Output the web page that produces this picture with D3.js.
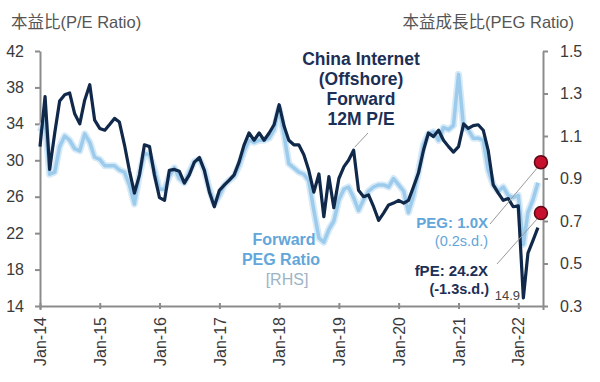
<!DOCTYPE html>
<html lang="zh-Hant">
<head>
<meta charset="UTF-8">
<title>China Internet Forward P/E and PEG</title>
<script src="https://cdnjs.cloudflare.com/ajax/libs/d3/7.8.5/d3.min.js"></script>
<style>
  body { margin: 0; background: #fff; }
  svg { display: block; font-family: "Liberation Sans", Arial, "Noto Sans CJK TC", sans-serif; }
  .axis path, .axis line { stroke: #8c8c8c; stroke-width: 2; }
  .axis text { fill: #3a3a3a; font-size: 16px; }
</style>
</head>
<body>
<div id="chart"></div>
<script>
// monthly series, Jan-14 .. May-22
const peValues = [
  31.5, 37.0, 29.0, 33.0, 36.5, 37.2, 37.4, 35.1, 34.0, 36.6,
  38.3, 34.4, 33.5, 33.3, 33.9, 34.6, 34.2, 31.7, 28.9, 26.4,
  28.4, 31.7, 31.5, 28.4, 25.9, 25.6, 28.9, 29.0, 28.8, 27.5,
  28.4, 29.8, 30.3, 28.9, 26.5, 24.9, 26.7, 27.3, 27.8, 28.4,
  29.8, 31.7, 33.0, 32.2, 33.0, 32.2, 33.0, 33.9, 36.1, 33.7,
  32.2, 31.7, 31.7, 30.6, 28.9, 26.5, 28.5, 23.8, 28.2, 24.8,
  28.0, 29.3, 30.0, 31.1, 26.7, 26.0, 26.2, 24.9, 23.4, 24.2,
  25.1, 25.3, 25.6, 25.3, 25.6, 27.1, 28.6, 31.1, 33.0, 32.6,
  33.3, 32.2, 31.5, 30.9, 31.5, 34.0, 33.5, 33.8, 33.9, 33.3,
  31.1, 27.3, 26.4, 25.6, 25.8, 24.9, 25.0, 14.9, 19.8, 21.2,
  22.6
];
const pegValues = [
  1.12, 1.17, 0.92, 0.93, 1.05, 1.10, 1.08, 1.04, 1.03, 1.11,
  1.07, 1.00, 0.99, 0.96, 0.96, 0.96, 0.94, 0.93, 0.87, 0.78,
  0.92, 1.02, 1.01, 0.94, 0.85, 0.85, 0.91, 0.95, 0.90, 0.88,
  0.93, 0.98, 0.99, 0.94, 0.85, 0.78, 0.82, 0.87, 0.89, 0.91,
  0.96, 1.03, 1.08, 1.07, 1.08, 1.08, 1.09, 1.13, 1.23, 1.10,
  0.97, 0.95, 0.93, 0.92, 0.89, 0.75, 0.62, 0.60, 0.66, 0.70,
  0.80, 0.85, 0.86, 0.81, 0.75, 0.80, 0.84, 0.86, 0.87, 0.87,
  0.86, 0.90, 0.87, 0.84, 0.74, 0.82, 0.93, 1.06, 1.11, 1.12,
  1.08, 1.14, 1.13, 1.15, 1.39, 1.14, 1.13, 1.09, 1.09, 1.08,
  0.94, 0.87, 0.84, 0.86, 0.82, 0.81, 0.82, 0.59, 0.74, 0.80,
  0.88
];
const tickYears = [2014, 2015, 2016, 2017, 2018, 2019, 2020, 2021, 2022];
const leftTicks = [14, 18, 22, 26, 30, 34, 38, 42];
const rightTicks = [0.3, 0.5, 0.7, 0.9, 1.1, 1.3, 1.5];
const latestPE = 24.2;
const latestPEG = 1.0;
const minPE = 14.9;

const months = d3.timeMonth.range(new Date(2014, 0, 1), new Date(2022, 4, 2));

const W = 600, H = 382;
const svg = d3.select("#chart").append("svg")
  .attr("width", W).attr("height", H);

const x = d3.scaleTime()
  .domain([new Date(2014, 0, 1), new Date(2022, 5, 1)])
  .range([40, 543]);
const yL = d3.scaleLinear().domain([14, 42]).range([306, 51]);
const yR = d3.scaleLinear().domain([0.3, 1.5]).range([306, 51]);

// axes
const gx = svg.append("g").attr("class", "axis")
  .attr("transform", "translate(0,306)")
  .call(d3.axisBottom(x)
    .tickValues(tickYears.map(yr => new Date(yr, 0, 1)))
    .tickFormat(d3.timeFormat("Jan-%y"))
    .tickSizeOuter(0).tickSize(4));
gx.selectAll(".tick line").attr("y1", -3).attr("y2", 3);
gx.selectAll(".tick text")
  .attr("transform", "rotate(-90)")
  .attr("text-anchor", "end")
  .attr("x", -11).attr("y", 0).attr("dy", "0.35em")
  .style("font-size", "16px");

svg.append("g").attr("class", "axis")
  .attr("transform", "translate(40,0)")
  .call(d3.axisLeft(yL).tickValues(leftTicks).tickSize(5).tickSizeOuter(0).tickPadding(11));

svg.append("g").attr("class", "axis")
  .attr("transform", "translate(543,0)")
  .call(d3.axisRight(yR).tickValues(rightTicks).tickFormat(d3.format(".1f"))
    .tickSize(5).tickSizeOuter(0).tickPadding(12));

// axis titles
svg.append("text").attr("x", 11).attr("y", 28)
  .attr("fill", "#555").style("font-size", "16.5px")
  .text("本益比(P/E Ratio)");
svg.append("text").attr("x", 574).attr("y", 28)
  .attr("text-anchor", "end")
  .attr("fill", "#555").style("font-size", "16.5px")
  .text("本益成長比(PEG Ratio)");

// lines
const pegLine = d3.line().x((d, i) => x(months[i])).y(d => yR(d));
const peLine = d3.line().x((d, i) => x(months[i])).y(d => yL(d));

svg.append("path").datum(pegValues)
  .attr("fill", "none").attr("stroke", "#d6eaf8")
  .attr("stroke-width", 7).attr("stroke-linejoin", "round")
  .attr("d", pegLine);
svg.append("path").datum(pegValues)
  .attr("fill", "none").attr("stroke", "#9ccbec")
  .attr("stroke-width", 3.5).attr("stroke-linejoin", "round")
  .attr("d", pegLine);
svg.append("path").datum(peValues)
  .attr("fill", "none").attr("stroke", "#10284a")
  .attr("stroke-width", 3.2).attr("stroke-linejoin", "round")
  .attr("d", peLine);

// annotations
const navy = "#1c2f55", blue = "#62a6da";
const peTitle = svg.append("text").attr("text-anchor", "middle")
  .attr("fill", navy).style("font-size", "17.5px").style("font-weight", "bold");
["China Internet", "(Offshore)", "Forward", "12M P/E"].forEach((s, i) => {
  peTitle.append("tspan").attr("x", 361).attr("y", 65 + i * 20).text(s);
});
const lastDate = months[months.length - 1];
svg.append("line")
  .attr("x1", 368).attr("y1", 133)
  .attr("x2", x(months[63]) + 1).attr("y2", yL(peValues[63]) - 3)
  .attr("stroke", "#999").attr("stroke-width", 1);

const pegTitle = svg.append("text").attr("text-anchor", "middle")
  .attr("fill", blue).style("font-size", "16px").style("font-weight", "bold");
pegTitle.append("tspan").attr("x", 284).attr("y", 245).text("Forward");
pegTitle.append("tspan").attr("x", 281).attr("y", 265).text("PEG Ratio");
svg.append("text").attr("x", 287).attr("y", 285).attr("text-anchor", "middle")
  .attr("fill", "#9db3c6").style("font-size", "16px").text("[RHS]");

// latest markers and labels
const px = x(lastDate) + 3;
const pegY = yR(latestPEG) + 5;
svg.append("line").attr("x1", 490).attr("y1", 224).attr("x2", px - 4).attr("y2", pegY + 6)
  .attr("stroke", "#999").attr("stroke-width", 1);
svg.append("line").attr("x1", 497).attr("y1", 264).attr("x2", px - 4).attr("y2", yL(latestPE) + 6)
  .attr("stroke", "#999").attr("stroke-width", 1);

svg.append("text").attr("x", 488).attr("y", 228).attr("text-anchor", "end")
  .attr("fill", blue).style("font-size", "15px").style("font-weight", "bold")
  .text(`PEG: ${latestPEG.toFixed(1)}X`);
svg.append("text").attr("x", 488).attr("y", 246).attr("text-anchor", "end")
  .attr("fill", blue).style("font-size", "14.5px")
  .text("(0.2s.d.)");
svg.append("text").attr("x", 488).attr("y", 276).attr("text-anchor", "end")
  .attr("fill", navy).style("font-size", "15px").style("font-weight", "bold")
  .text(`fPE: ${latestPE.toFixed(1)}X`);
svg.append("text").attr("x", 489).attr("y", 294).attr("text-anchor", "end")
  .attr("fill", navy).style("font-size", "14.5px").style("font-weight", "bold")
  .text("(-1.3s.d.)");
svg.append("text").attr("x", 520).attr("y", 300).attr("text-anchor", "end")
  .attr("fill", "#444").style("font-size", "13px")
  .text(minPE.toFixed(1));

[pegY, yL(latestPE)].forEach(cy => {
  svg.append("circle").attr("cx", px).attr("cy", cy).attr("r", 6.5)
    .attr("fill", "#c8102e").attr("stroke", "#5a0a14").attr("stroke-width", 1.5);
});
</script>
</body>
</html>
